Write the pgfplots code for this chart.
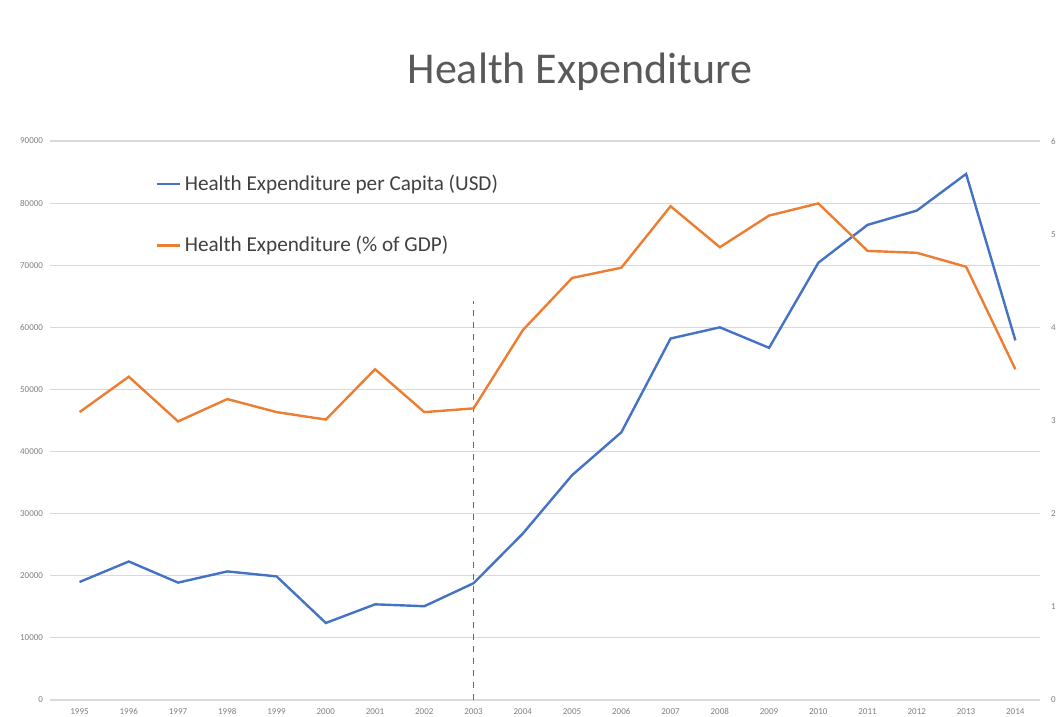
\documentclass[border=0pt]{standalone}
\usepackage{fontspec}
\setmainfont{Carlito}
\usepackage{pgfplots}
\pgfplotsset{compat=1.18}
\definecolor{cblue}{HTML}{4472C4}
\definecolor{corange}{HTML}{ED7D31}
\definecolor{gridc}{HTML}{D9D9D9}
\definecolor{tickc}{HTML}{7F7F7F}
\begin{document}
\begin{tikzpicture}[x=1pt,y=1pt]
\path[use as bounding box] (0,0) rectangle (528.5,358.5);
\node[font=\fontsize{22}{26}\selectfont, text=black!65] at (290,322.5) {Health Expenditure};
\begin{axis}[
  at={(25pt,8.5pt)}, anchor=south west, scale only axis,
  width=495pt, height=279.5pt,
  xmin=1994.4, xmax=2014.5, ymin=0, ymax=90000,
  xtick={1995,...,2014}, ytick={0,10000,...,90000},
  scaled y ticks=false,
  /pgf/number format/1000 sep={},
  /pgf/number format/assume math mode=true,
  tick label style={font=\fontsize{4.5}{5}\selectfont, text=tickc},
  xticklabel style={text height=3.5pt, text depth=0pt},
  axis line style={draw=none},
  major tick length=0pt,
  ymajorgrids, grid style={gridc, line width=0.6pt},
  legend style={at={(0.1,0.955)}, anchor=north west, draw=none, fill=none,
    font=\fontsize{10.6}{12}\selectfont, text=black!75, row sep=17.5pt, cells={anchor=west}},
  legend cell align=left,
  legend image code/.code={\draw[#1, line width=1.2pt] (0pt,0pt) -- (11.5pt,0pt);},
]
\addplot[cblue, line width=1.2pt] coordinates {
(1995,19000) (1996,22300) (1997,18900) (1998,20700) (1999,19900)
(2000,12400) (2001,15400) (2002,15100) (2003,18800) (2004,26800)
(2005,36200) (2006,43100) (2007,58200) (2008,60000) (2009,56700)
(2010,70400) (2011,76500) (2012,78800) (2013,84700) (2014,57900)};
\addlegendentry{Health Expenditure per Capita (USD)}
\addlegendimage{corange, line width=1.2pt}
\addlegendentry{Health Expenditure (\% of GDP)}
\addplot[black!60, dashed, line width=0.6pt, forget plot] coordinates {(2003,0) (2003,64300)};
\end{axis}
\begin{axis}[
  at={(25pt,8.5pt)}, anchor=south west, scale only axis,
  width=495pt, height=279.5pt,
  xmin=1994.4, xmax=2014.5, ymin=0, ymax=6,
  ytick={0,...,6}, xtick=\empty,
  axis y line*=right, axis x line=none,
  /pgf/number format/assume math mode=true,
  tick label style={font=\fontsize{4.5}{5}\selectfont, text=tickc},
  axis line style={draw=none},
  major tick length=0pt,
  yticklabel style={xshift=2pt},
]
\addplot[corange, line width=1.2pt] coordinates {
(1995,3.09) (1996,3.47) (1997,2.99) (1998,3.23) (1999,3.09)
(2000,3.01) (2001,3.55) (2002,3.09) (2003,3.13) (2004,3.97)
(2005,4.53) (2006,4.64) (2007,5.30) (2008,4.86) (2009,5.20)
(2010,5.33) (2011,4.82) (2012,4.80) (2013,4.65) (2014,3.55)};
\end{axis}
\end{tikzpicture}
\end{document}
